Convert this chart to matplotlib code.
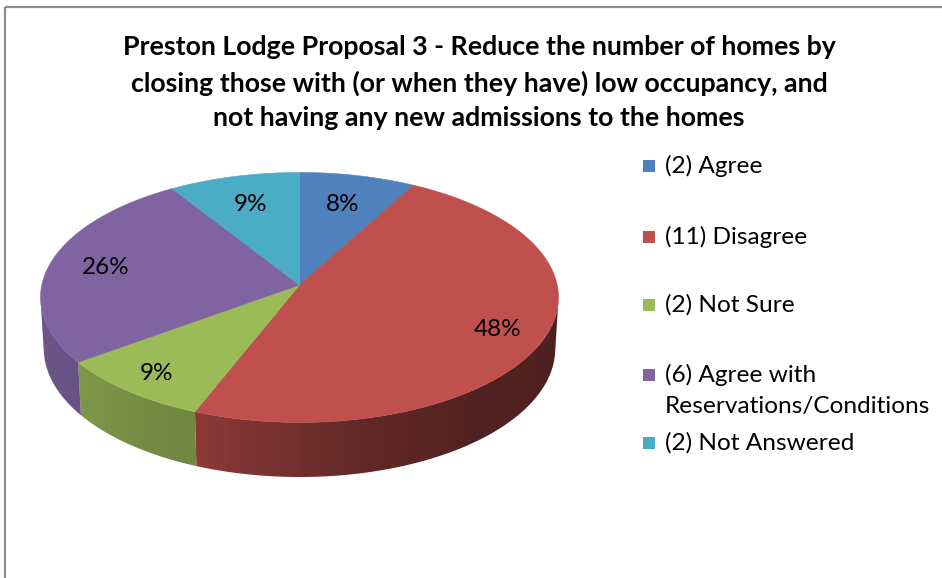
import numpy as np
import matplotlib
matplotlib.use("Agg")
import matplotlib.pyplot as plt
from matplotlib.patches import Polygon, Rectangle
from matplotlib.colors import to_rgb

# ---- data ----
categories = ["Agree", "Disagree", "Not Sure",
              "Agree with\nReservations/Conditions", "Not Answered"]
counts = [2, 11, 2, 6, 2]
percents = [8, 48, 9, 26, 9]
colors = ["#4F81BD", "#C0504D", "#9BBB59", "#8064A2", "#4BACC6"]
title_lines = ["Preston Lodge Proposal 3 - Reduce the number of homes by",
               "closing those with (or when they have) low occupancy, and",
               "not having any new admissions to the homes"]

FONT = ["Lato", "DejaVu Sans"]
W, H = 942, 578

fig = plt.figure(figsize=(W / 100, H / 100), dpi=100)
ax = fig.add_axes([0, 0, 1, 1])
ax.set_xlim(0, W)
ax.set_ylim(H, 0)
ax.axis("off")

# chart-area border (top and left edges visible)
ax.add_patch(Rectangle((5, 7), W + 20, H + 20, fill=False,
                       edgecolor="#8c8c8c", linewidth=1.6, zorder=0))

# ---- simple perspective camera for a 3-D pie ----
cx, cy = 299.5, 285.0         # screen position of the pie centre
tilt = np.radians(28.7)
sa, ca = np.sin(tilt), np.cos(tilt)
dist = 8.81                   # camera distance (pie radius = 1)
focal = 2270.0                # pixels
depth = 0.228                 # pie thickness


def project(X, Y, Z):
    d = dist + Y * ca - Z * sa
    return cx + focal * X / d, cy - focal * (Y * sa + Z * ca) / d


def arc(t0, t1, z, r=1.0, n=None):
    if n is None:
        n = max(2, int(abs(t1 - t0) * 2) + 1)
    t = np.radians(np.linspace(t0, t1, n))
    return project(r * np.cos(t), r * np.sin(t), z * np.ones_like(t))


# wedge angles: start at the back (90 deg) and run clockwise
sizes = np.array(percents, dtype=float)
spans = sizes / sizes.sum() * 360.0
ends = 90.0 - np.cumsum(spans)
starts = ends + spans

# side wall: visible range of the cylinder, shaded darker to the right
t_lim = np.degrees(np.arcsin(1.0 / (dist * ca)))
vis_lo, vis_hi = -180.0 + t_lim, -t_lim
shade_nodes = [-180, -160, -140, -110, -80, -50, 0]
shade_vals = [0.86, 0.85, 0.80, 0.72, 0.52, 0.42, 0.40]

# screen x -> wall angle along the front rim
rim_x, _ = arc(vis_lo, vis_hi, 0.0, n=800)
rim_t = np.linspace(vis_lo, vis_hi, 800)

for s0, s1, col in zip(starts, ends, colors):
    base = np.array(to_rgb(col))
    for k in (-360.0, 0.0, 360.0):
        lo = max(s1, vis_lo + k)
        hi = min(s0, vis_hi + k)
        if hi <= lo:
            continue
        xt, yt = arc(lo - k, hi - k, 0.0)
        xb, yb = arc(hi - k, lo - k, -depth)
        wall = Polygon(np.column_stack([np.r_[xt, xb], np.r_[yt, yb]]),
                       closed=True, facecolor="none", edgecolor="none")
        ax.add_patch(wall)
        x0 = min(xt.min(), xb.min()) - 1
        x1 = max(xt.max(), xb.max()) + 1
        y0 = min(yt.min(), yb.min()) - 1
        y1 = max(yt.max(), yb.max()) + 1
        xs = np.linspace(x0, x1, 400)
        th = np.interp(xs, rim_x, rim_t)
        fac = np.interp(th, shade_nodes, shade_vals)
        img = np.clip(base[None, None, :] * fac[None, :, None], 0, 1)
        img = np.repeat(img, 2, axis=0)
        im = ax.imshow(img, extent=(x0, x1, y1, y0), aspect="auto",
                       interpolation="bilinear", zorder=2)
        im.set_clip_path(wall)

# top faces
apex = project(0.0, 0.0, 0.0)
for s0, s1, col in zip(starts, ends, colors):
    xa, ya = arc(s0, s1, 0.0)
    pts = np.column_stack([np.r_[apex[0], xa], np.r_[apex[1], ya]])
    ax.add_patch(Polygon(pts, closed=True, facecolor=col, edgecolor=col,
                         linewidth=0.4, zorder=3))

ax.set_xlim(0, W)
ax.set_ylim(H, 0)

# percentage labels
for s0, s1, p in zip(starts, ends, percents):
    mid = np.radians(0.5 * (s0 + s1))
    r = 0.79 - 0.07 * np.sin(mid)
    lx, ly = project(r * np.cos(mid), r * np.sin(mid), 0.0)
    ax.text(lx, ly, f"{p}%", ha="center", va="center", fontsize=17.5,
            family=FONT, color="black", zorder=5)

# title
for yy, line in zip([47, 83, 118], title_lines):
    ax.text(479, yy, line, ha="center", va="center", fontsize=19.3,
            fontweight="bold", family=FONT, color="black")

# legend
legend_y = [166, 237, 305, 375, 443]
for yy, cat, n, col in zip(legend_y, categories, counts, colors):
    ax.add_patch(Rectangle((643, yy - 6), 12, 12, facecolor=col,
                           edgecolor="none", zorder=4))
    lines = f"({n}) {cat}".split("\n")
    for j, ln in enumerate(lines):
        ax.text(665, yy + 32 * j, ln, ha="left", va="center", fontsize=17.6,
                family=FONT, color="black")

fig.savefig("out.png", dpi=100)
